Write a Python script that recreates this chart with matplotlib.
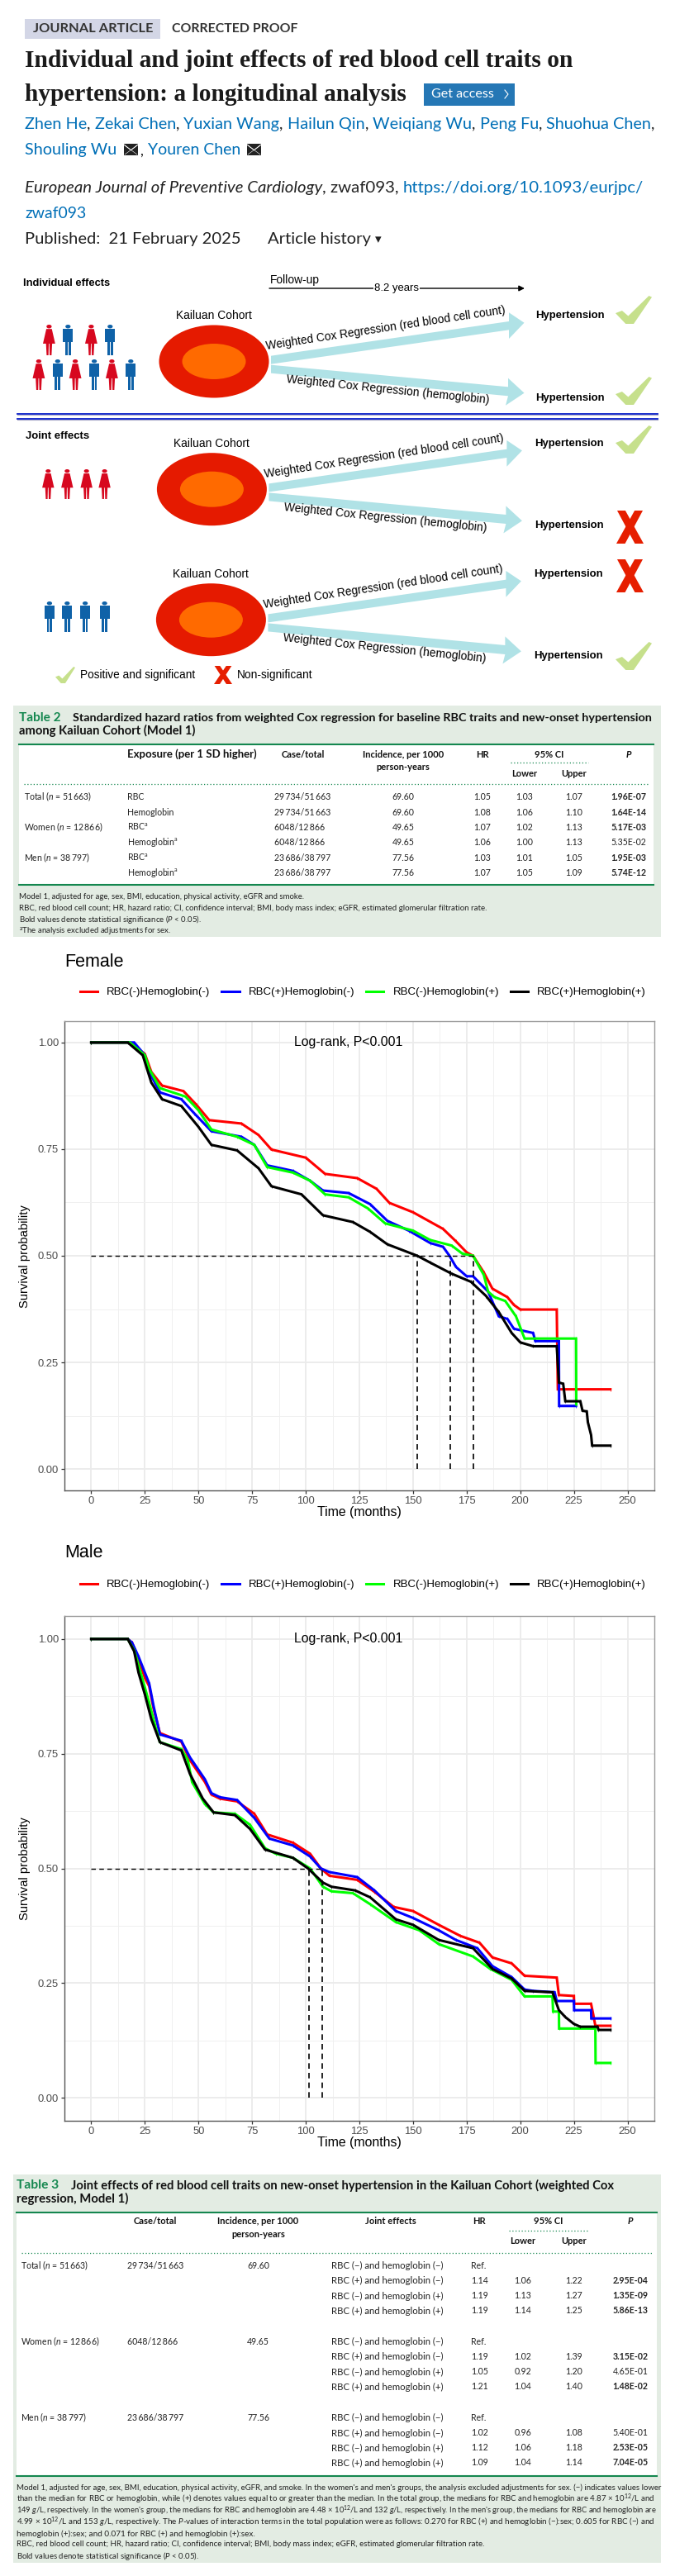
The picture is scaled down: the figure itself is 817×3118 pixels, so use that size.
import matplotlib
matplotlib.use("Agg")
import matplotlib.pyplot as plt
from matplotlib.patches import Ellipse, Polygon, Rectangle
from matplotlib.lines import Line2D

W, H = 817, 3118
SANS = "Lato"
ARIAL = "Liberation Sans"
SERIF = "Liberation Serif"
LINK = "#006fb7"
GREEN = "#14874f"
PANEL = "#e3ece3"
NUM = 7.6
HEAD = 8.0

plt.rcParams["font.family"] = [SANS, "DejaVu Sans"]
plt.rcParams["mathtext.fontset"] = "custom"
plt.rcParams["mathtext.rm"] = SANS
plt.rcParams["mathtext.it"] = SANS + ":italic"
plt.rcParams["mathtext.bf"] = SANS + ":bold"

# survival curves (time in months, survival probability)
f_red_t = [0, 18, 25, 28, 33, 43, 49, 55, 70, 78, 84, 100, 109, 124, 133, 139, 150, 164, 170, 175, 178, 183, 187, 194, 197, 200, 217, 217.5, 242]
f_red_s = [1, 1, .973, .931, .899, .886, .854, .818, .810, .783, .749, .730, .692, .682, .657, .624, .602, .563, .534, .508, .50, .461, .423, .403, .385, .374, .374, .187, .187]
f_blue_t = [0, 20, 25, 27, 32, 42, 48, 56, 70, 76, 82, 94, 102, 108, 120, 130, 138, 148, 158, 164, 167, 170, 175, 178, 185, 190, 194, 197, 206, 207, 218, 218.1, 226]
f_blue_s = [1, 1, .970, .931, .883, .867, .834, .792, .779, .760, .712, .699, .676, .653, .647, .621, .582, .559, .530, .521, .50, .474, .452, .452, .416, .358, .352, .329, .319, .30, .30, .148, .148]
f_green_t = [0, 18, 25, 27, 32, 44, 50, 56, 68, 76, 82, 94, 102, 109, 120, 129, 137, 150, 158, 168, 173, 178, 183, 185, 188, 193, 198, 202, 226, 226.1]
f_green_s = [1, 1, .970, .938, .893, .873, .841, .796, .779, .760, .708, .695, .676, .644, .637, .611, .576, .559, .537, .524, .505, .50, .455, .416, .403, .394, .358, .306, .306, .152]
f_black_t = [0, 17, 24, 28, 33, 42, 50, 56, 68, 78, 84, 98, 108, 122, 130, 138, 152, 158, 168, 177, 184, 190, 196, 200, 206, 217, 218, 220, 221, 228, 229, 231, 231.5, 233, 233.5, 242]
f_black_s = [1, 1, .97, .906, .867, .851, .802, .760, .747, .705, .663, .644, .595, .579, .556, .527, .50, .484, .458, .439, .406, .368, .319, .297, .288, .288, .203, .20, .159, .159, .137, .135, .11, .08, .055, .055]

m_red_t = [0, 17, 19, 22, 25, 27, 29, 32, 42, 46, 53, 56, 60, 68, 76, 82, 94, 102, 107, 111, 124, 132, 141, 150, 162, 172, 181, 187, 196, 202, 217, 218, 225, 225.1, 233, 234, 235, 242]
m_red_s = [1, 1, .992, .957, .915, .897, .849, .795, .776, .736, .688, .661, .652, .646, .619, .574, .556, .532, .50, .484, .475, .449, .416, .407, .377, .353, .338, .306, .293, .266, .262, .224, .222, .205, .205, .182, .157, .157]
m_blue_t = [0, 17, 19, 22, 27, 29, 32, 42, 46, 53, 56, 60, 68, 76, 83, 94, 102, 107, 111, 124, 132, 142, 150, 162, 170, 180, 187, 196, 202, 206, 216, 217, 225, 225.1, 233, 233.1, 242]
m_blue_s = [1, 1, .992, .962, .903, .855, .792, .778, .742, .694, .664, .655, .649, .61, .565, .55, .526, .50, .492, .481, .452, .407, .392, .365, .344, .326, .287, .263, .236, .233, .23, .211, .211, .191, .191, .173, .173]
m_green_t = [0, 17, 20, 23, 27, 30, 32, 42, 45, 47, 53, 57, 67, 74, 81, 86, 94, 102, 108, 112, 122, 130, 142, 153, 162, 178, 186, 196, 202, 215, 215.3, 218, 218.1, 235, 235.1, 242]
m_green_s = [1, 1, .975, .927, .861, .807, .775, .76, .736, .688, .64, .622, .619, .595, .544, .532, .523, .50, .46, .45, .446, .422, .383, .365, .335, .308, .281, .257, .221, .221, .188, .188, .151, .151, .076, .076]
m_black_t = [0, 17, 20, 22, 25, 28, 32, 42, 46, 52, 57, 67, 74, 81, 94, 101, 108, 112, 123, 130, 142, 150, 162, 178, 187, 196, 202, 215, 218, 221, 225, 228, 236, 236.5, 242]
m_black_s = [1, 1, .973, .927, .879, .825, .775, .757, .706, .652, .622, .616, .586, .541, .523, .50, .469, .46, .452, .437, .389, .377, .344, .326, .281, .26, .233, .23, .191, .176, .161, .155, .155, .148, .148]

curve_names = ["RBC(-)Hemoglobin(-)", "RBC(+)Hemoglobin(-)", "RBC(-)Hemoglobin(+)", "RBC(+)Hemoglobin(+)"]
curve_colors = ["#ff0000", "#0000ff", "#00ff00", "#000000"]
f_medians = [152, 167.5, 178]
m_medians = [101.5, 107.5]
x_ticks = [0, 25, 50, 75, 100, 125, 150, 175, 200, 225, 250]
y_ticks = [0, .25, .5, .75, 1]
y_labels = ["0.00", "0.25", "0.50", "0.75", "1.00"]

# table 2
t2_groups = ["Total ($\\mathit{n}$ = 51\u2009663)", "", "Women ($\\mathit{n}$ = 12\u2009866)", "", "Men ($\\mathit{n}$ = 38\u2009797)", ""]
t2_exposure = ["RBC", "Hemoglobin", "RBC$^{\\mathrm{a}}$", "Hemoglobin$^{\\mathrm{a}}$", "RBC$^{\\mathrm{a}}$", "Hemoglobin$^{\\mathrm{a}}$"]
t2_case = ["29\u2009734/51\u2009663", "29\u2009734/51\u2009663", "6048/12\u2009866", "6048/12\u2009866", "23\u2009686/38\u2009797", "23\u2009686/38\u2009797"]
t2_incidence = ["69.60", "69.60", "49.65", "49.65", "77.56", "77.56"]
t2_hr = ["1.05", "1.08", "1.07", "1.06", "1.03", "1.07"]
t2_lower = ["1.03", "1.06", "1.02", "1.00", "1.01", "1.05"]
t2_upper = ["1.07", "1.10", "1.13", "1.13", "1.05", "1.09"]
t2_p = ["1.96E-07", "1.64E-14", "5.17E-03", "5.35E-02", "1.95E-03", "5.74E-12"]
t2_bold = [True, True, True, False, True, True]
t2_notes = [
    "Model 1, adjusted for age, sex, BMI, education, physical activity, eGFR and smoke.",
    "RBC, red blood cell count; HR, hazard ratio; CI, confidence interval; BMI, body mass index; eGFR, estimated glomerular filtration rate.",
    "Bold values denote statistical significance ($\\mathit{P}$ < 0.05).",
    "$^{\\mathrm{a}}$The analysis excluded adjustments for sex.",
]
t2_note_widths = [343, 566, 221, 183]

# table 3
t3_groups = ["Total ($\\mathit{n}$ = 51\u2009663)", "Women ($\\mathit{n}$ = 12\u2009866)", "Men ($\\mathit{n}$ = 38\u2009797)"]
t3_case = ["29\u2009734/51\u2009663", "6048/12\u2009866", "23\u2009686/38\u2009797"]
t3_incidence = ["69.60", "49.65", "77.56"]
t3_joint = ["RBC (−) and hemoglobin (−)", "RBC (+) and hemoglobin (−)", "RBC (−) and hemoglobin (+)", "RBC (+) and hemoglobin (+)"]
t3_hr = ["Ref.", "1.14", "1.19", "1.19", "Ref.", "1.19", "1.05", "1.21", "Ref.", "1.02", "1.12", "1.09"]
t3_lower = ["", "1.06", "1.13", "1.14", "", "1.02", "0.92", "1.04", "", "0.96", "1.06", "1.04"]
t3_upper = ["", "1.22", "1.27", "1.25", "", "1.39", "1.20", "1.40", "", "1.08", "1.18", "1.14"]
t3_p = ["", "2.95E-04", "1.35E-09", "5.86E-13", "", "3.15E-02", "4.65E-01", "1.48E-02", "", "5.40E-01", "2.53E-05", "7.04E-05"]
t3_bold = [False, True, True, True, False, True, False, True, False, False, True, True]
t3_notes = [
    "Model 1, adjusted for age, sex, BMI, education, physical activity, eGFR, and smoke. In the women's and men's groups, the analysis excluded adjustments for sex. (−) indicates values lower",
    "than the median for RBC or hemoglobin, while (+) denotes values equal to or greater than the median. In the total group, the medians for RBC and hemoglobin are 4.87 × 10$^{12}$/L and",
    "149 $\\mathit{g}$/L, respectively. In the women's group, the medians for RBC and hemoglobin are 4.48 × 10$^{12}$/L and 132 $\\mathit{g}$/L, respectively. In the men's group, the medians for RBC and hemoglobin are",
    "4.99 × 10$^{12}$/L and 153 $\\mathit{g}$/L, respectively. The $\\mathit{P}$-values of interaction terms in the total population were as follows: 0.270 for RBC (+) and hemoglobin (−):sex; 0.605 for RBC (−) and",
    "hemoglobin (+):sex; and 0.071 for RBC (+) and hemoglobin (+):sex.",
    "RBC, red blood cell count; HR, hazard ratio; CI, confidence interval; BMI, body mass index; eGFR, estimated glomerular filtration rate.",
    "Bold values denote statistical significance ($\\mathit{P}$ < 0.05).",
]
t3_note_widths = [774, 774, 774, 774, 288, 570, 221]

fig = plt.figure(figsize=(W / 100, H / 100), dpi=100, facecolor="white")
page = fig.add_axes([0, 0, 1, 1])
page.set_xlim(0, W)
page.set_ylim(H, 0)
page.axis("off")
rend = fig.canvas.get_renderer()


def put(x, y, s, size=10, color="#222222", family=SANS, weight="normal", style="normal",
        ha="left", width=None, rotation=0):
    t = page.text(x, y, s, fontsize=size, color=color, family=family, weight=weight, style=style,
                  ha=ha, va="center", rotation=rotation, rotation_mode="anchor")
    if width:
        # scale the font so the line ends where it does in the picture
        t.set_fontsize(size * width / t.get_window_extent(rend).width)
    return t


def run_width(s, size, style):
    t = put(0, -50, s + "|", size, style=style)
    bar = put(0, -50, "|", size, style=style)
    w = t.get_window_extent(rend).width - bar.get_window_extent(rend).width
    t.remove()
    bar.remove()
    return w


def runs(x, y, parts, size, end):
    # colored pieces on one line, font scaled so the line stops at end
    for _ in range(3):
        total = sum(run_width(s, size, style) for s, _c, style in parts)
        size *= (end - x) / total
    for s, color, style in parts:
        put(x, y, s, size, color, style=style)
        x += run_width(s, size, style)


def envelope(x, y, w, h):
    page.add_patch(Rectangle((x, y), w, h, color="#222222", lw=0))
    page.plot([x, x + w / 2, x + w], [y + 1, y + h * .55, y + 1], color="white", lw=.7)
    page.plot([x + 1, x + w - 1], [y + h - 1, y + 2], color="white", lw=.4)
    page.plot([x + 1, x + w - 1], [y + 2, y + h - 1], color="white", lw=.4)


def check(x, y, w, h):
    pts = [(0, .62), (.18, .53), (.35, .72), (.92, 0), (1, .05), (.5, 1), (.28, 1)]
    page.add_patch(Polygon([(x + a * w, y + b * h) for a, b in pts], color="#c6e08c", lw=0))


def cross(x, y, w, h):
    for pts in ([(.03, 0), (.33, 0), (1, 1), (.68, 1)], [(.97, 0), (.67, 0), (0, 1), (.32, 1)]):
        page.add_patch(Polygon([(x + a * w, y + b * h) for a, b in pts], color="#e61e00", lw=0))


def person(cx, top, h, female):
    color = "#d7081f" if female else "#0f62a8"
    page.add_patch(Ellipse((cx, top + h * .06), h * .17, h * .12, color=color, lw=0))
    if female:
        body = [(-.09, .14), (.09, .14), (.2, .62), (.1, .62), (.08, 1), (.02, 1), (.01, .62),
                (-.01, .62), (-.02, 1), (-.08, 1), (-.1, .62), (-.2, .62)]
    else:
        body = [(-.16, .14), (.16, .14), (.16, .56), (.09, .56), (.09, 1), (.015, 1), (.015, .58),
                (-.015, .58), (-.015, 1), (-.09, 1), (-.09, .56), (-.16, .56)]
    page.add_patch(Polygon([(cx + a * h, top + b * h) for a, b in body], color=color, lw=0))


def cohort(dx, dy):
    put(259 + dx, 382 + dy, "Kailuan Cohort", 9.6, "black", ARIAL, ha="center", width=91)
    page.add_patch(Polygon([(a + dx, b + dy) for a, b in [(328, 430.7), (616, 389), (616, 378.3), (634.5, 390.7),
                                                           (616, 410), (616, 399.3), (328, 440.7)]], color="#b0e2e6", lw=0))
    page.add_patch(Polygon([(a + dx, b + dy) for a, b in [(328, 441.7), (615, 468.3), (615, 457.7), (634.5, 475.7),
                                                           (612, 490.7), (615, 479.3), (328, 451.7)]], color="#b0e2e6", lw=0))
    page.add_patch(Ellipse((259 + dx, 437.5 + dy), 133, 88, color="#e51a00", lw=0))
    page.add_patch(Ellipse((259 + dx, 437.5 + dy), 77, 43, color="#ff6a00", lw=0))
    put(467 + dx, 397 + dy, "Weighted Cox Regression (red blood cell count)", 9.2, "black", ARIAL, ha="center", rotation=8.6, width=289)
    put(469 + dx, 472 + dy, "Weighted Cox Regression (hemoglobin)", 9.2, "black", ARIAL, ha="center", rotation=-5.9, width=246)


def table_head(x_case, x_inc, x_hr, x_ci, x_low, x_up, x_p, y1, y2, y3, size):
    for x, s in [(x_case, "Case/total"), (x_inc, "Incidence, per 1000"), (x_hr, "HR"), (x_ci, "95% CI")]:
        put(x, y1, s, size, "#111111", weight="bold", ha="center")
    put(x_p, y1, "P", size, "#111111", weight="bold", style="italic", ha="center")
    put(x_inc, y2, "person-years", size, "#111111", weight="bold", ha="center")
    put(x_low, y3, "Lower", size, "#111111", weight="bold", ha="center")
    put(x_up, y3, "Upper", size, "#111111", weight="bold", ha="center")


def km(top, bottom, title, curves, medians, title_y, legend_y):
    ax = fig.add_axes([78 / W, 1 - bottom / H, 714 / W, (bottom - top) / H])
    ax.set_xlim(-12.5, 262.5)
    ax.set_ylim(-.05, 1.05)
    ax.set_xticks(x_ticks)
    ax.set_yticks(y_ticks)
    ax.set_yticklabels(y_labels)
    ax.set_xticks([12.5 + v for v in x_ticks], minor=True)
    ax.set_yticks([.125, .375, .625, .875], minor=True)
    ax.grid(True, which="major", color="#ebebeb", lw=1.3)
    ax.grid(True, which="minor", color="#f0f0f0", lw=.7)
    ax.tick_params(which="minor", length=0)
    ax.tick_params(which="major", length=3, width=.9, color="#333333", labelcolor="#4d4d4d", labelsize=9.4, pad=2)
    ax.set_axisbelow(True)
    for name, sp in ax.spines.items():
        sp.set_color("#555555" if name in ("left", "bottom") else "#9a9a9a")
        sp.set_linewidth(1.0)
    for (t, s), c in zip(curves, curve_colors):
        ax.plot(t, s, color=c, lw=2.2, marker="|", ms=3.5, mew=.5, solid_joinstyle="miter")
    ax.plot([0, max(medians)], [.5, .5], color="black", lw=1.0, ls=(0, (4, 3)))
    for m in medians:
        ax.plot([m, m], [0, .5], color="black", lw=1.2, ls=(0, (4, 3)))
    for lab in ax.get_xticklabels() + ax.get_yticklabels():
        lab.set_family(ARIAL)
    ax.set_xlabel("Time (months)", family=ARIAL, fontsize=11.4, color="black", labelpad=0)
    ax.text(120, 1.0, "Log-rank, P<0.001", family=ARIAL, fontsize=11.4, ha="center", va="center")
    put(30, (top + bottom) / 2 + .5, "Survival probability", 10.6, "black", ARIAL, ha="center", rotation=90)
    put(78, title_y, title, 15.5, "black", ARIAL)
    handles = [Line2D([], [], color=c, lw=2.2) for c in curve_colors]
    ax.legend(handles, curve_names, ncol=4, loc="center left", bbox_to_anchor=(97, legend_y),
              bbox_transform=page.transData, frameon=False, borderpad=0, borderaxespad=0,
              prop={"family": ARIAL, "size": 9.5}, handlelength=1.6, handletextpad=.85, columnspacing=1.05)
    return ax


# article header
page.add_patch(Rectangle((30, 23), 164, 24, color="#d3d6e6", lw=0))
put(40, 35, "JOURNAL ARTICLE", 9, "#333333", weight="bold", width=144)
put(208, 35, "CORRECTED PROOF", 9, "#333333", weight="bold", width=153)
put(30, 73, "Individual and joint effects of red blood cell traits on", 17, "#1a1a1a", SERIF, "bold", width=664)
put(30, 114, "hypertension: a longitudinal analysis", 17, "#1a1a1a", SERIF, "bold", width=463)
page.add_patch(Rectangle((513.5, 101), 110, 27, color="#2577b5", lw=0))
put(522, 114, "Get access", 10, "white", width=76)
page.plot([611, 615, 611], [109, 114, 119], color="white", lw=.8)

runs(30, 150, [("Zhen He", LINK, "normal"), (", ", "#222222", "normal"), ("Zekai Chen", LINK, "normal"), (", ", "#222222", "normal"),
               ("Yuxian Wang", LINK, "normal"), (", ", "#222222", "normal"), ("Hailun Qin", LINK, "normal"), (", ", "#222222", "normal"),
               ("Weiqiang Wu", LINK, "normal"), (", ", "#222222", "normal"), ("Peng Fu", LINK, "normal"), (", ", "#222222", "normal"),
               ("Shuohua Chen", LINK, "normal"), (",", "#222222", "normal")], 14, 794)
put(30, 181, "Shouling Wu", 12.3, LINK, width=112)
envelope(150, 174, 17, 14)
put(169, 183, ",", 12.3)
put(179, 181, "Youren Chen", 12.3, LINK, width=113)
envelope(299, 174, 17, 14)
runs(30, 227, [("European Journal of Preventive Cardiology", "#222222", "italic"), (", zwaf093, ", "#222222", "normal"),
               ("https://doi.org/10.1093/eurjpc/", LINK, "normal")], 14, 779)
put(30, 258, "zwaf093", 11.9, LINK, width=74)
put(30, 289, "Published:  21 February 2025", 12, width=260)
put(324, 289, "Article history", 12, width=125)
put(454, 290, "▾", 11, family="DejaVu Sans")

# study design figure
put(28, 343, "Individual effects", 8.8, "black", ARIAL, "bold", width=106)
put(31, 528, "Joint effects", 8.8, "black", ARIAL, "bold", width=78)
put(327, 339, "Follow-up", 8.8, "black", ARIAL, width=60)
page.annotate("", xy=(635, 349), xytext=(326, 349), arrowprops=dict(arrowstyle="-|>", color="black", lw=1, shrinkA=0, shrinkB=0))
put(480, 349, "8.2 years", 8.8, "black", ARIAL, ha="center", width=54).set_bbox(dict(fc="white", ec="none", pad=1))

for y in (500.7, 506.7):
    page.plot([21, 796], [y + 1, y + 1], color="#a8a8c8", lw=.8)
    page.plot([21, 796], [y, y], color="#0a1fc8", lw=1.3)

for dx, dy in [(0, 0), (-2.6, 154.7), (-3.6, 312.7)]:
    cohort(dx, dy)
for x, y in [(690, 382), (690, 482), (689, 537), (689, 636), (688, 695), (688, 794)]:
    put(x, y, "Hypertension", 9.2, "black", ARIAL, "bold", ha="center", width=84)
for y in (358, 456, 515, 777):
    check(745, y, 44, 34)
cross(746, 618, 33, 40)
cross(746, 677, 33, 40)
for cx, fem in zip((59.4, 82.3, 110.4, 133.3), (True, False, True, False)):
    person(cx, 393, 37, fem)
for cx, fem in zip((46.9, 69.8, 91.1, 114.1, 135.4, 158.3), (True, False, True, False, True, False)):
    person(cx, 435, 37, fem)
for cx in (58.3, 81.3, 104.7, 126.6):
    person(cx, 568, 36, True)
for cx in (59.9, 81.3, 103.1, 126.6):
    person(cx, 728, 37, False)
check(67, 807, 24, 20)
put(97, 817, "Positive and significant", 9, "black", ARIAL, width=140)
cross(259, 806, 22, 22)
put(287, 817, "Non-significant", 9, "black", ARIAL, width=92)

# table 2
page.add_patch(Rectangle((16, 854), 784, 280, color=PANEL, lw=0))
page.add_patch(Rectangle((23, 901), 768, 170, color="white", lw=0))
put(23, 869, "Table 2", 9, GREEN, weight="bold", width=50)
put(88.5, 869, "Standardized hazard ratios from weighted Cox regression for baseline RBC traits and new-onset hypertension", 9, "#111111", weight="bold", width=701)
put(23, 884, "among Kailuan Cohort (Model 1)", 9, "#111111", weight="bold", width=213)
for y in (901, 1071):
    page.plot([23, 791], [y, y], color=GREEN, lw=1.5)
page.plot([29, 785], [949, 949], color=GREEN, lw=.9, ls=(0, (1, 2)))
page.plot([618, 712], [923, 923], color=GREEN, lw=.9, ls=(0, (1, 2)))
put(154, 913, "Exposure (per 1 SD higher)", HEAD, "#111111", weight="bold", width=157)
table_head(367, 488, 584, 665, 635, 695, 761, 913, 928, 936, HEAD)
t2_rows = [964, 983, 1001, 1019, 1038, 1056]
for i, y in enumerate(t2_rows):
    put(29, y, t2_groups[i], NUM)
    put(154, y, t2_exposure[i], NUM)
    put(332, y, t2_case[i], NUM)
    put(488, y, t2_incidence[i], NUM, ha="center")
    put(584, y, t2_hr[i], NUM, ha="center")
    put(635, y, t2_lower[i], NUM, ha="center")
    put(695, y, t2_upper[i], NUM, ha="center")
    put(761, y, t2_p[i], NUM, weight="bold" if t2_bold[i] else "normal", ha="center")
for y, s, w in zip([1085, 1099, 1113, 1127], t2_notes, t2_note_widths):
    put(23, y, s, 7.5, width=w)

# survival plots
km(1236, 1804, "Female", [(f_red_t, f_red_s), (f_blue_t, f_blue_s), (f_green_t, f_green_s), (f_black_t, f_black_s)], f_medians, 1164, 1201)
km(1956, 2567, "Male", [(m_red_t, m_red_s), (m_blue_t, m_blue_s), (m_green_t, m_green_s), (m_black_t, m_black_s)], m_medians, 1879, 1918)

# table 3
page.add_patch(Rectangle((16, 2632), 784, 470, color=PANEL, lw=0))
page.add_patch(Rectangle((20, 2678), 775, 319, color="white", lw=0))
put(20, 2645, "Table 3", 9, GREEN, weight="bold", width=51)
put(86, 2645, "Joint effects of red blood cell traits on new-onset hypertension in the Kailuan Cohort (weighted Cox", 9, "#111111", weight="bold", width=658)
put(20, 2661, "regression, Model 1)", 9, "#111111", weight="bold", width=134)
for y in (2678, 2997):
    page.plot([20, 795], [y, y], color=GREEN, lw=1.5)
page.plot([26, 789], [2727, 2727], color=GREEN, lw=.9, ls=(0, (1, 2)))
page.plot([616, 713], [2700, 2700], color=GREEN, lw=.9, ls=(0, (1, 2)))
table_head(188, 312.5, 580, 664, 633, 695, 763, 2689, 2705, 2713, HEAD)
put(473, 2689, "Joint effects", HEAD, "#111111", weight="bold", ha="center")
t3_rows = [2742, 2760, 2779, 2797, 2834, 2852, 2871, 2889, 2926, 2945, 2963, 2981]
for i, y in enumerate(t3_rows):
    if i % 4 == 0:
        put(25, y, t3_groups[i // 4], NUM)
        put(154, y, t3_case[i // 4], NUM)
        put(312.5, y, t3_incidence[i // 4], NUM, ha="center")
    put(401.5, y, t3_joint[i % 4], 8.2)
    put(570, y, t3_hr[i], NUM)
    put(633, y, t3_lower[i], NUM, ha="center")
    put(695, y, t3_upper[i], NUM, ha="center")
    put(763, y, t3_p[i], NUM, weight="bold" if t3_bold[i] else "normal", ha="center")
for y, s, w in zip([3011, 3025, 3039, 3053, 3067, 3080, 3094], t3_notes, t3_note_widths):
    put(20, y, s, 7.5, width=w)

fig.savefig("out.png", dpi=100)
